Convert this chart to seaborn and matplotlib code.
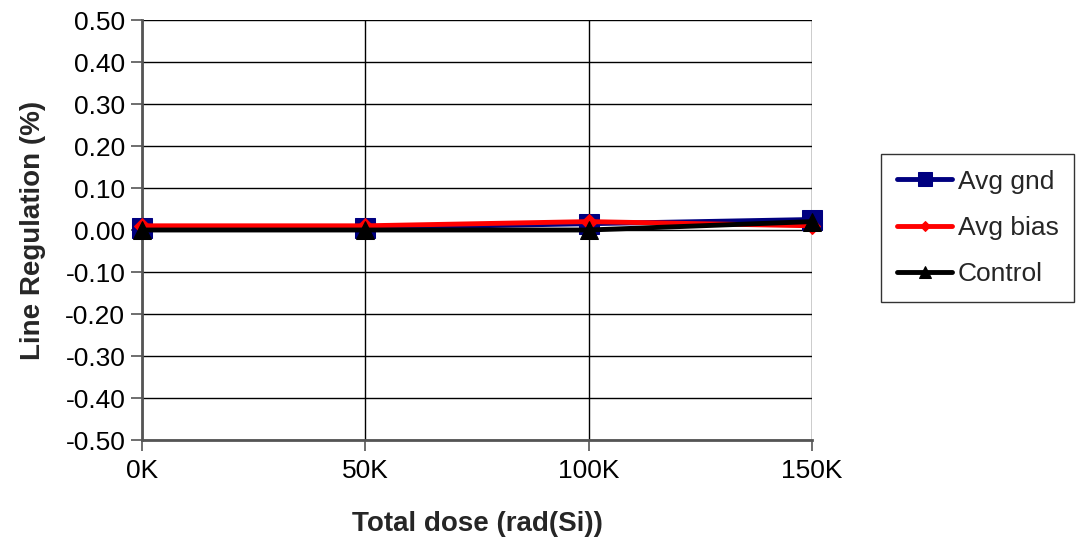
import matplotlib.pyplot as plt
import seaborn as sns
import pandas as pd

# Values (line regulation, %)
dose_krad = [0, 50, 100, 150]
dose_labels = ["0K", "50K", "100K", "150K"]
avg_gnd = [0.005, 0.005, 0.015, 0.025]
avg_bias = [0.01, 0.01, 0.02, 0.01]
control = [0.0, 0.0, 0.0, 0.02]
series_names = ["Avg gnd", "Avg bias", "Control"]

df = pd.DataFrame({
    "dose": dose_krad * 3,
    "value": avg_gnd + avg_bias + control,
    "series": [s for s in series_names for _ in dose_krad],
})

sns.set_style("white")
plt.rcParams['font.family'] = ['Liberation Sans', 'DejaVu Sans']

fig = plt.figure(figsize=(10.9, 5.43), dpi=100)
ax = fig.add_axes([142 / 1090, 1 - 440 / 543, (812 - 142) / 1090, (440 - 20) / 543])

palette = {"Avg gnd": "#000080", "Avg bias": "#ff0000", "Control": "#000000"}
markers = {"Avg gnd": "s", "Avg bias": "D", "Control": "^"}
sizes = {"Avg gnd": 14, "Avg bias": 8, "Control": 13}

for name in series_names:
    sub = df[df["series"] == name]
    sns.lineplot(data=sub, x="dose", y="value", color=palette[name],
                 marker=markers[name], markersize=sizes[name],
                 markeredgecolor=palette[name], linewidth=3.5,
                 label=name, ax=ax, clip_on=False, zorder=3)

ax.set_xlim(0, 150)
ax.set_ylim(-0.5, 0.5)
ax.set_xticks(dose_krad)
ax.set_xticklabels(dose_labels)
ax.set_yticks([i / 10 for i in range(-5, 6)])
ax.set_yticklabels([f"{i / 10:.2f}" for i in range(-5, 6)])

ax.grid(True, color="black", linewidth=1)
for side in ["top", "right"]:
    ax.spines[side].set_visible(False)
for side in ["left", "bottom"]:
    ax.spines[side].set_color("#555555")
    ax.spines[side].set_linewidth(2)
ax.tick_params(axis="both", labelsize=19, length=8, width=1.2,
               direction="out", left=True, bottom=True, colors="#555555",
               labelcolor="black")
ax.tick_params(axis="y", pad=4)
ax.tick_params(axis="x", pad=6)
ax.set_xlabel("Total dose (rad(Si))", fontsize=20, fontweight="bold", labelpad=20)
ax.set_ylabel("Line Regulation (%)", fontsize=20, fontweight="bold", labelpad=14)

leg = ax.legend(loc="center left", bbox_to_anchor=(881 / 1090, 1 - 228 / 543),
                bbox_transform=fig.transFigure, fontsize=19, frameon=True,
                fancybox=False, edgecolor="black", handlelength=2.1,
                labelspacing=0.85, handletextpad=0.2, borderpad=0.6,
                borderaxespad=0, markerscale=0.7)
leg.get_frame().set_linewidth(1)

fig.savefig("out.png", dpi=100)
